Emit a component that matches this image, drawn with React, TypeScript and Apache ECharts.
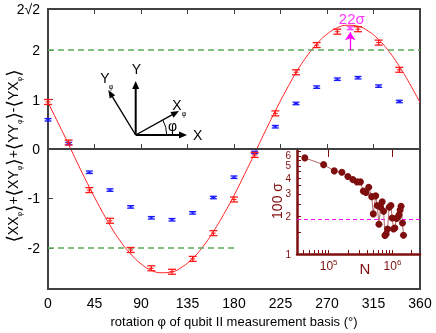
import React, { useEffect, useRef } from 'react';
import * as echarts from 'echarts';

// ---- main panel data (rotation angle in degrees) ----
const phiMeas = [0, 20, 40, 60, 80, 100, 120, 140, 160, 180, 200, 220, 240, 260, 280, 300, 320, 340];
const redVals = [0.95, 0.13, -0.83, -1.45, -2.04, -2.41, -2.48, -2.22, -1.70, -1.02, -0.12, 0.72, 1.55, 2.10, 2.37, 2.42, 2.15, 1.60];
const redErr = [0.05, 0.05, 0.05, 0.05, 0.05, 0.05, 0.05, 0.05, 0.05, 0.05, 0.05, 0.05, 0.05, 0.05, 0.05, 0.05, 0.05, 0.05];
const blueVals = [0.59, 0.11, -0.47, -0.83, -1.17, -1.39, -1.43, -1.29, -0.98, -0.57, -0.07, 0.45, 0.92, 1.25, 1.41, 1.44, 1.27, 0.96];
const blueErr = [0.025, 0.025, 0.025, 0.025, 0.025, 0.025, 0.025, 0.025, 0.025, 0.025, 0.025, 0.025, 0.025, 0.025, 0.025, 0.025, 0.025, 0.025];

// fitted curve
const fitPhi = [0, 10, 20, 30, 40, 50, 60, 70, 80, 90, 100, 110, 120, 130, 140, 150, 160, 170, 180, 190, 200, 210, 220, 230, 240, 250, 260, 270, 280, 290, 300, 310, 320, 330, 340, 350, 360];
const fitVals = [0.94, 0.52, 0.09, -0.35, -0.77, -1.17, -1.54, -1.86, -2.12, -2.32, -2.45, -2.50, -2.48, -2.38, -2.21, -1.97, -1.67, -1.32, -0.94, -0.52, -0.09, 0.35, 0.77, 1.17, 1.54, 1.86, 2.12, 2.32, 2.45, 2.50, 2.48, 2.38, 2.21, 1.97, 1.67, 1.32, 0.94];

// best-angle point (magenta)
const bestPhi = [292.5];
const bestVals = [2.44];
const bestErr = [0.03];
const bestLabel = '22σ';

const yTickValues = [-2, -1, 0, 1, 2, 2 * Math.SQRT2];
const xTickInterval = 45;

// ---- inset data: 100σ vs N ----
const insetN = [42400, 83600, 122700, 161500, 200400, 239500, 279300, 314600, 350300, 385600, 424400, 472700, 500900, 545800, 578000, 614300, 652900, 691100, 727500, 762200, 798400, 838600, 888600, 944100, 989000, 1040000, 1090000, 1158000, 1214000, 1271000, 1318000, 1365000, 1435000, 1489000];
const insetSigma = [5.78, 5.11, 4.56, 4.45, 4.11, 3.89, 3.73, 3.73, 3.15, 3.07, 3.38, 2.85, 2.08, 2.89, 2.42, 1.72, 2.35, 2.59, 2.18, 1.40, 1.44, 1.58, 2.35, 2.42, 1.93, 1.58, 1.61, 1.91, 1.96, 2.05, 2.23, 2.39, 1.76, 1.41];
const insetRef = 1.88;
const insetYLabelsA = [1, 2, 3, 4, 5];
const insetYLabelsB = [6];
const insetYMinorTicks = [1, 1.5, 2, 2.5, 3, 3.5, 4, 4.5, 5, 5.5, 6, 6.5];
const insetXLabels = [1e5, 1e6];
const insetXMinorTicks = [4e4, 5e4, 6e4, 7e4, 8e4, 9e4, 1e5, 2e5, 3e5, 4e5, 5e5, 6e5, 7e5, 8e5, 9e5, 1e6, 2e6];

const FONT = '"Liberation Sans", Arial, Helvetica, sans-serif';
const MAROON = '#7f0f0f';

function errorBarSeries(data: number[][], color: string, halfW: number, lw: number) {
  return {
    type: 'custom',
    xAxisIndex: 0,
    yAxisIndex: 0,
    encode: { x: 0, y: 1 },
    data,
    z: 5,
    renderItem: (_params: any, api: any) => {
      const x = api.value(0);
      const y = api.value(1);
      const e = api.value(2);
      const top = api.coord([x, y + e]);
      const bot = api.coord([x, y - e]);
      const mid = api.coord([x, y]);
      const style = { stroke: color, lineWidth: lw };
      return {
        type: 'group',
        children: [
          { type: 'line', shape: { x1: top[0], y1: top[1], x2: bot[0], y2: bot[1] }, style },
          { type: 'line', shape: { x1: top[0] - halfW, y1: top[1], x2: top[0] + halfW, y2: top[1] }, style },
          { type: 'line', shape: { x1: bot[0] - halfW, y1: bot[1], x2: bot[0] + halfW, y2: bot[1] }, style },
          { type: 'line', shape: { x1: mid[0] - halfW * 0.6, y1: mid[1], x2: mid[0] + halfW * 0.6, y2: mid[1] }, style: { stroke: color, lineWidth: 1 } },
        ],
      };
    },
  };
}

function arrowHead(tip: number[], from: number[], len: number, half: number) {
  const dx = tip[0] - from[0];
  const dy = tip[1] - from[1];
  const l = Math.hypot(dx, dy);
  const ux = dx / l, uy = dy / l;
  const bx = tip[0] - ux * len, by = tip[1] - uy * len;
  return [tip, [bx - uy * half, by + ux * half], [bx + uy * half, by - ux * half]];
}

export default function App() {
  const ref = useRef<HTMLDivElement>(null);
  useEffect(() => {
    const chart = echarts.init(ref.current!, null, { renderer: 'svg' });
    const O = [135.7, 135];
    const tipX = [187, 135];
    const tipY = [135.7, 81];
    const tipXp = [179, 111];
    const tipYp = [108.3, 90];
    const ink = '#000';
    const insetYLabelStyle = { fontSize: 10, lineHeight: 9, color: MAROON, margin: 6, fontFamily: FONT, hideOverlap: false };
    const option: any = {
      animation: false,
      textStyle: { fontFamily: FONT },
      grid: [
        { left: 48, right: 16, top: 9, bottom: 44, show: true, borderColor: '#404040', borderWidth: 2, backgroundColor: 'transparent' },
        { left: 297, right: 16, top: 149, bottom: 79, show: false },
      ],
      xAxis: [
        {
          type: 'value', gridIndex: 0, min: 0, max: 360, interval: xTickInterval, position: 'bottom',
          axisLine: { show: true, lineStyle: { color: '#404040', width: 2 } },
          axisTick: { show: true, inside: true, length: 5, lineStyle: { color: '#404040', width: 1 } },
          axisLabel: { fontSize: 14, color: '#000', margin: 7, fontFamily: FONT },
          splitLine: { show: false },
          name: 'rotation φ of qubit II measurement basis (°)',
          nameLocation: 'middle', nameGap: 26,
          nameTextStyle: { fontSize: 13, color: '#000', fontFamily: FONT },
        },
        {
          type: 'value', gridIndex: 0, min: 0, max: 360, interval: xTickInterval, position: 'top',
          axisLine: { show: false },
          axisTick: { show: true, inside: true, length: 5, lineStyle: { color: '#404040', width: 1 } },
          axisLabel: { show: false },
          splitLine: { show: false },
        },
        {
          type: 'log', gridIndex: 1, min: 32000, max: 2700000, logBase: 10,
          axisLine: { show: true, onZero: false, lineStyle: { color: MAROON, width: 2.5 } },
          axisTick: { show: true, inside: true, length: 4, customValues: insetXMinorTicks, lineStyle: { color: MAROON, width: 1 } },
          axisLabel: {
            customValues: insetXLabels, margin: 4, color: MAROON, fontFamily: FONT,
            formatter: (v: number) => `{b|10}{s|${Math.round(Math.log10(v))}}`,
            rich: {
              b: { fontSize: 12, color: MAROON, fontFamily: FONT, verticalAlign: 'bottom', lineHeight: 14 },
              s: { fontSize: 8, color: MAROON, fontFamily: FONT, verticalAlign: 'top', lineHeight: 14 },
            },
          },
          splitLine: { show: false },
        },
        {
          type: 'log', gridIndex: 1, min: 32000, max: 2700000, logBase: 10,
          axisLine: { show: false },
          axisTick: { show: true, inside: true, length: 8, customValues: insetXLabels, lineStyle: { color: MAROON, width: 1 } },
          axisLabel: { show: false },
          splitLine: { show: false },
        },
      ],
      yAxis: [
        {
          type: 'value', gridIndex: 0, min: -2 * Math.SQRT2, max: 2 * Math.SQRT2,
          axisLine: { show: true, lineStyle: { color: '#404040', width: 2 } },
          axisTick: { show: true, inside: true, length: 5, customValues: [-2, -1, 0, 1, 2], lineStyle: { color: '#404040', width: 1 } },
          axisLabel: {
            customValues: yTickValues, fontSize: 14, color: '#000', margin: 8, fontFamily: FONT,
            formatter: (v: number) => (Math.abs(v - 2 * Math.SQRT2) < 1e-6 ? '2√2' : String(v)),
          },
          splitLine: { show: false },
        },
        {
          type: 'log', gridIndex: 1, min: 1, max: 6.8, logBase: 10,
          axisLine: { show: true, onZero: false, lineStyle: { color: MAROON, width: 2.5 } },
          axisTick: { show: true, inside: true, length: 4, customValues: insetYMinorTicks, lineStyle: { color: MAROON, width: 1 } },
          axisLabel: { customValues: insetYLabelsA, showMaxLabel: true, showMinLabel: true, ...insetYLabelStyle },
          splitLine: { show: false },
        },
        {
          type: 'log', gridIndex: 1, min: 1, max: 6.8, logBase: 10, position: 'left',
          axisLine: { show: false, onZero: false },
          axisTick: { show: false },
          axisLabel: { customValues: insetYLabelsB, showMaxLabel: true, ...insetYLabelStyle },
          splitLine: { show: false },
        },
      ],
      series: [
        {
          type: 'line', xAxisIndex: 0, yAxisIndex: 0,
          data: fitPhi.map((p, i) => [p, fitVals[i]]),
          smooth: true, showSymbol: false, symbol: 'none',
          lineStyle: { color: '#ff2020', width: 1 },
          z: 4,
          markLine: {
            silent: true, symbol: 'none', label: { show: false },
            data: [
              [{ coord: [0, 2], lineStyle: { color: '#5cac5c', type: [6, 4], width: 1.5 } }, { coord: [360, 2] }],
              [{ coord: [0, -2], lineStyle: { color: '#5cac5c', type: [6, 4], width: 1.5 } }, { coord: [180, -2] }],
              [{ coord: [0, 0], lineStyle: { color: '#404040', type: 'solid', width: 2 } }, { coord: [360, 0] }],
            ],
          },
        },
        errorBarSeries(phiMeas.map((p, i) => [p, blueVals[i], blueErr[i]]), '#1a1aff', 3.5, 1.3),
        errorBarSeries(phiMeas.map((p, i) => [p, redVals[i], redErr[i]]), '#ff1a1a', 4, 1.3),
        {
          ...errorBarSeries(bestPhi.map((p, i) => [p, bestVals[i], bestErr[i]]), '#ff40ff', 3.5, 1.3),
          markLine: {
            silent: true, symbol: ['none', 'arrow'], symbolSize: 8, label: { show: false },
            lineStyle: { color: '#ff00ff', type: 'solid', width: 1.3 },
            data: [[{ coord: [bestPhi[0], 2] }, { coord: [bestPhi[0], 2.36] }]],
          },
        },
        {
          type: 'scatter', xAxisIndex: 0, yAxisIndex: 0, symbolSize: 0,
          data: [[294, 2.64]],
          label: { show: true, position: 'inside', formatter: bestLabel, color: '#ff00ff', fontSize: 15, fontFamily: FONT },
        },
        {
          type: 'line', xAxisIndex: 2, yAxisIndex: 1,
          data: insetN.map((n, i) => [n, insetSigma[i]]),
          symbol: 'circle', symbolSize: 7, showSymbol: true,
          itemStyle: { color: MAROON },
          lineStyle: { color: '#b06a6a', width: 1 },
          z: 6,
          markLine: {
            silent: true, symbol: 'none', label: { show: false },
            lineStyle: { color: '#ff00ff', type: [4, 3], width: 1 },
            data: [{ yAxis: insetRef }],
          },
        },
      ],
      graphic: [
        {
          type: 'text', x: 13, y: 156, rotation: Math.PI / 2,
          style: {
            text: '{b|⟨}{a|XX}{s|φ}{b|⟩}{a|+}{b|⟨}{a|XY}{s|φ}{b|⟩}{a|+}{b|⟨}{a|YY}{s|φ}{b|⟩}{a|-}{b|⟨}{a|YX}{s|φ}{b|⟩}',
            align: 'center', verticalAlign: 'middle',
            rich: {
              a: { fontSize: 14, fontFamily: FONT, fill: '#000', verticalAlign: 'middle', lineHeight: 20 },
              b: { fontSize: 19, fontFamily: '"DejaVu Sans", sans-serif', fill: '#000', verticalAlign: 'middle', lineHeight: 20 },
              s: { fontSize: 7, fontFamily: FONT, fill: '#000', verticalAlign: 'bottom', lineHeight: 18 },
            },
          },
        },
        { type: 'text', x: 277, y: 201, rotation: Math.PI / 2, style: { text: '100 σ', fontSize: 14, fontFamily: FONT, fill: MAROON, align: 'center', verticalAlign: 'middle' } },
        { type: 'text', x: 365, y: 268, style: { text: 'N', fontSize: 15, fontFamily: FONT, fill: MAROON, align: 'center', verticalAlign: 'middle' } },
        // coordinate diagram
        { type: 'line', shape: { x1: O[0], y1: O[1], x2: tipX[0] - 4, y2: tipX[1] }, style: { stroke: ink, lineWidth: 2 } },
        { type: 'polygon', shape: { points: arrowHead(tipX, O, 8, 3.5) }, style: { fill: ink } },
        { type: 'line', shape: { x1: O[0], y1: O[1], x2: tipY[0], y2: tipY[1] + 4 }, style: { stroke: ink, lineWidth: 2 } },
        { type: 'polygon', shape: { points: arrowHead(tipY, O, 8, 3.5) }, style: { fill: ink } },
        { type: 'line', shape: { x1: O[0], y1: O[1], x2: tipXp[0] - 3, y2: tipXp[1] + 1.7 }, style: { stroke: ink, lineWidth: 1.4 } },
        { type: 'polygon', shape: { points: arrowHead(tipXp, O, 8, 3.2) }, style: { fill: ink } },
        { type: 'line', shape: { x1: O[0], y1: O[1], x2: tipYp[0] + 2, y2: tipYp[1] + 3.4 }, style: { stroke: ink, lineWidth: 1.4 } },
        { type: 'polygon', shape: { points: arrowHead(tipYp, O, 8, 3.2) }, style: { fill: ink } },
        { type: 'arc', shape: { cx: O[0], cy: O[1], r: 31, startAngle: -29 * Math.PI / 180, endAngle: 0, clockwise: true }, style: { stroke: ink, lineWidth: 1, fill: 'none' } },
        { type: 'text', x: 193, y: 135, style: { text: 'X', fontSize: 14, fontFamily: FONT, fill: ink, align: 'left', verticalAlign: 'middle' } },
        { type: 'text', x: 136.5, y: 69, style: { text: 'Y', fontSize: 14, fontFamily: FONT, fill: ink, align: 'center', verticalAlign: 'middle' } },
        { type: 'text', x: 177, y: 105, style: { text: 'X', fontSize: 14, fontFamily: FONT, fill: ink, align: 'center', verticalAlign: 'middle' } },
        { type: 'text', x: 184, y: 113, style: { text: 'φ', fontSize: 7, fontFamily: FONT, fill: ink, align: 'center', verticalAlign: 'middle' } },
        { type: 'text', x: 105, y: 78, style: { text: 'Y', fontSize: 14, fontFamily: FONT, fill: ink, align: 'center', verticalAlign: 'middle' } },
        { type: 'text', x: 111, y: 86.5, style: { text: 'φ', fontSize: 7, fontFamily: FONT, fill: ink, align: 'center', verticalAlign: 'middle' } },
        { type: 'text', x: 172.5, y: 126, style: { text: 'φ', fontSize: 14, fontFamily: FONT, fill: ink, align: 'center', verticalAlign: 'middle' } },
      ],
    };
    chart.setOption(option);
    return () => chart.dispose();
  }, []);
  return <div ref={ref} style={{ position: 'fixed', left: 0, top: 0, width: 436, height: 333 }} />;
}
